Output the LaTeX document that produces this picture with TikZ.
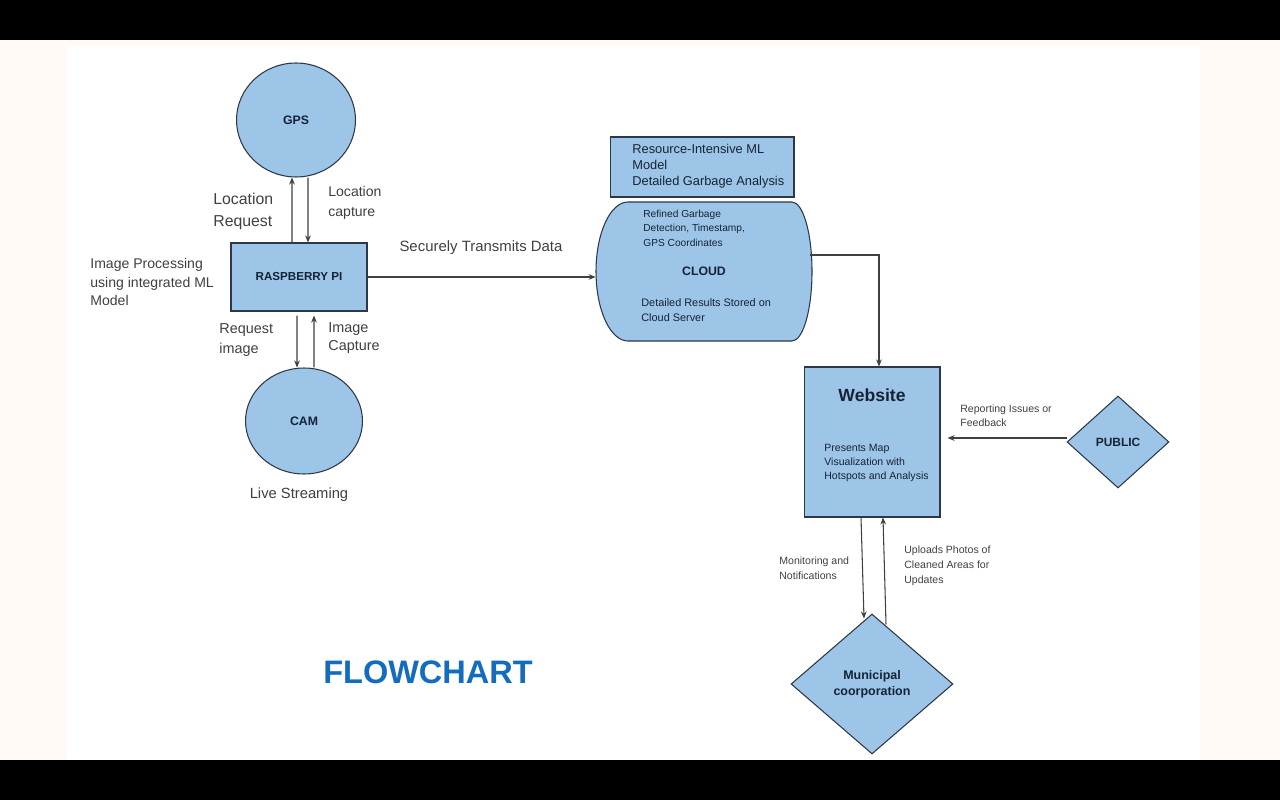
\documentclass[tikz,border=0pt]{standalone}
\usepackage{fontspec}
\setmainfont{Liberation Sans}
\usepackage{xcolor}
\usepackage{tikz}
\usetikzlibrary{positioning, shapes, arrows, calc, arrows.meta, backgrounds}

\definecolor{boxblue}{RGB}{157,197,232}
\definecolor{edgegray}{RGB}{45,55,70}
\definecolor{navy}{RGB}{22,35,55}
\definecolor{labelgray}{RGB}{64,64,64}
\definecolor{cream}{RGB}{255,250,246}
\definecolor{titleblue}{RGB}{20,108,190}

\newcommand{\fsz}[2]{\fontsize{#1}{#2}\selectfont}

\tikzset{
  box/.style={draw=edgegray, fill=boxblue, line width=0.6pt, inner sep=0pt, text=navy},
  line/.style={draw=labelgray, line width=0.6pt},
  lbl/.style={text=labelgray, align=left, anchor=west, inner sep=0pt},
  intext/.style={text=navy, align=left, anchor=west, inner sep=0pt},
}

\begin{document}
\begin{tikzpicture}[x=0.02cm, y=-0.02cm, >={Stealth[length=4pt, width=3.2pt]}]
      % Page and bars
      \useasboundingbox (0,0) rectangle (1280,800);
      \fill[cream] (0,0) rectangle (1280,800);
      \fill[white] (67,46) rectangle (1200,760);
      \fill[black] (0,0) rectangle (1280,40);
      \fill[black] (0,760) rectangle (1280,800);

      % Devices
      \node[box, ellipse, minimum width=2.38cm, minimum height=2.28cm, font=\bfseries\fsz{7}{8}] (gps) at (296,120) {GPS};
      \node[box, minimum width=2.72cm, minimum height=1.36cm, font=\bfseries\fsz{6.6}{8}] (rpi) at (299,277) {RASPBERRY PI};
      \node[box, ellipse, minimum width=2.34cm, minimum height=2.12cm, font=\bfseries\fsz{7}{8}] (cam) at (304,421) {CAM};

      \draw[->, line] ([xshift=-0.14cm]rpi.north) -- ([xshift=-0.08cm]gps.south);
      \draw[->, line] ([xshift=0.24cm]gps.south) -- ([xshift=0.18cm]rpi.north);
      \draw[->, line] ([xshift=-0.04cm, yshift=-0.08cm]rpi.south) -- ([xshift=-0.14cm]cam.north);
      \draw[->, line] ([xshift=0.2cm]cam.north) -- ([xshift=0.3cm, yshift=-0.08cm]rpi.south);

      \node[lbl, font=\fsz{9}{12.5}] (locreq) at (213,211) {Location\\Request};
      \node[lbl, font=\fsz{8}{11.5}] (loccap) at (328,203) {Location\\capture};
      \node[lbl, font=\fsz{8}{10.5}] (imgproc) at (90,282) {Image Processing\\using integrated ML\\Model};
      \node[lbl, font=\fsz{8.2}{11.5}] (reqimg) at (219,340) {Request\\image};
      \node[lbl, font=\fsz{8.2}{10.3}] (imgcap) at (328,338) {Image\\Capture};
      \node[text=labelgray, font=\fsz{8.4}{10}] (live) at (299,495) {Live Streaming};

      % Cloud
      \draw[box] (628,202) -- (792,202) .. controls (803,202) and (812,233) .. (812,271.5)
        .. controls (812,310) and (803,341) .. (792,341) -- (628,341)
        .. controls (610.3,341) and (596,310) .. (596,271.5)
        .. controls (596,233) and (610.3,202) .. cycle;
      \node[minimum width=4.32cm, minimum height=2.78cm, inner sep=0pt, text=navy, font=\bfseries\fsz{7}{8}] (srv) at (704,271.5) {CLOUD};
      \node[intext, font=\fsz{5.8}{8.2}] (refined) at (643,228) {Refined Garbage\\Detection, Timestamp,\\GPS Coordinates};
      \node[intext, font=\fsz{6.2}{8.5}] (stored) at (641,310.5) {Detailed Results Stored on\\Cloud Server};

      \node[box, minimum width=3.68cm, minimum height=1.2cm] (ml) at (702,167) {};
      \node[intext, font=\fsz{7.3}{9}] (mltxt) at (632,166) {Resource-Intensive ML\\Model\\Detailed Garbage Analysis};

      \draw[->, line] (rpi.east) -- (rpi.east -| srv.west);
      \node[text=labelgray, font=\fsz{8.5}{10}] (secure) at (481,248) {Securely Transmits Data};

      % Website and users
      \node[box, minimum width=2.72cm, minimum height=3cm] (web) at (872,442) {};
      \node[text=navy, font=\bfseries\fsz{10}{12}] (webtitle) at (872,395) {Website};
      \node[intext, font=\fsz{6}{8}] (webtxt) at (824,463) {Presents Map\\Visualization with\\Hotspots and Analysis};

      \node[box, diamond, minimum width=2.04cm, minimum height=1.84cm, font=\bfseries\fsz{6.8}{8}] (pub) at (1118,442) {PUBLIC};
      \node[box, diamond, minimum width=3.24cm, minimum height=2.8cm, align=center, font=\bfseries\fsz{7.1}{9}] (muni) at (872,684) {Municipal\\coorporation};

      \draw[->, line] ([xshift=-0.04cm, yshift=0.33cm]srv.east) -| ([xshift=0.14cm]web.north);
      \draw[->, line] ([yshift=0.08cm]pub.west) -- ([xshift=0.14cm, yshift=0.08cm]web.east);
      \draw[->, line] ([xshift=-0.22cm]web.south) -- ([xshift=-0.16cm, yshift=-0.1cm]muni.north);
      \draw[->, line] ([xshift=0.28cm, yshift=-0.22cm]muni.north) -- ([xshift=0.22cm]web.south);

      \node[lbl, font=\fsz{6}{8}] (report) at (960,416) {Reporting Issues or\\Feedback};
      \node[lbl, font=\fsz{6}{8.7}] (monitor) at (779,568) {Monitoring and\\Notifications};
      \node[lbl, font=\fsz{6}{8.5}] (upload) at (904,566) {Uploads Photos of\\Cleaned Areas for\\Updates};

      % Title
      \node[text=titleblue, font=\bfseries\fsz{18.5}{20}] (title) at (428,672) {FLOWCHART};
    \end{tikzpicture}
\end{document}
